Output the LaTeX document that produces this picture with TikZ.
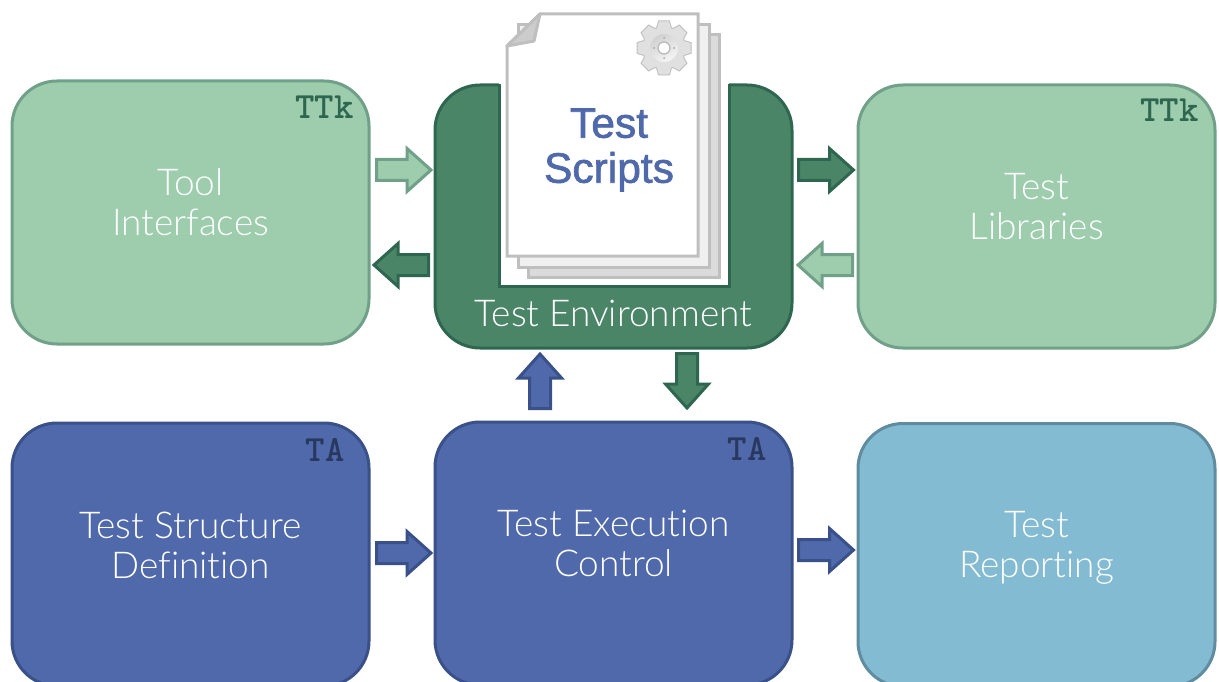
\documentclass[tikz,border=0pt]{standalone}
\usepackage{fontspec}
\setmainfont{Lato Light}[Ligatures=NoCommon]
\newfontfamily\scriptsfont[FakeBold=1.6]{Liberation Sans}
\usetikzlibrary{calc,positioning}
\definecolor{lightgreen}{HTML}{9DCDAD}
\definecolor{lightgreenline}{HTML}{70A088}
\definecolor{darkgreen}{HTML}{4B8568}
\definecolor{darkgreenline}{HTML}{2F6650}
\definecolor{tablue}{HTML}{4F69AB}
\definecolor{tablueline}{HTML}{3A5088}
\definecolor{reportblue}{HTML}{83BBD2}
\definecolor{reportline}{HTML}{5F8C9E}
\definecolor{pageline}{HTML}{BFBFBF}
\tikzset{
	basic/.style = {draw, rounded corners=45pt, line width=3pt, minimum width=357pt, inner sep=0pt},
	tool/.style = {basic, fill=lightgreen, draw=lightgreenline, minimum height=263pt},
	env/.style = {basic, fill=darkgreen, draw=darkgreenline, minimum height=263pt},
	ctrl/.style = {basic, fill=tablue, draw=tablueline, minimum height=263pt},
	report/.style = {basic, fill=reportblue, draw=reportline, minimum height=263pt},
	boxtext/.style = {text=white, align=center, font=\fontsize{37}{40}\selectfont},
	owner/.style = {font=\ttfamily\bfseries\fontsize{37}{37}\selectfont\addfontfeatures{FakeBold=2}, inner sep=0pt},
	page/.style = {draw=pageline, line width=3pt},
	blockarrow/.style = {line width=3pt, miter limit=10, to path={
		-- ($(\tikztostart)!10.5pt!90:(\tikztotarget)$)
		-- ($(\tikztotarget)!24pt!(\tikztostart)!10.5pt!90:(\tikztotarget)$)
		-- ($(\tikztotarget)!24pt!(\tikztostart)!21.5pt!90:(\tikztotarget)$)
		-- (\tikztotarget)
		-- ($(\tikztotarget)!24pt!(\tikztostart)!21.5pt!-90:(\tikztotarget)$)
		-- ($(\tikztotarget)!24pt!(\tikztostart)!10.5pt!-90:(\tikztotarget)$)
		-- ($(\tikztostart)!10.5pt!-90:(\tikztotarget)$)
		-- cycle}},
	greenarrow/.style = {blockarrow, fill=darkgreen, draw=darkgreenline},
	palearrow/.style = {blockarrow, fill=lightgreen, draw=lightgreenline},
	bluearrow/.style = {blockarrow, fill=tablue, draw=tablueline}
}
\begin{document}
\begin{tikzpicture}[x=1pt,y=-1pt]
	\useasboundingbox (0,0) rectangle (1219,682);
	\clip (0,0) rectangle (1219,682);
	% the six boxes
	\node[tool] (interfaces) at (190.5,212.5) {};
	\node[env, right = 63pt of interfaces, yshift=-4pt] (environment) {};
	\node[tool, right = 63pt of environment] (libraries) {};
	\node[ctrl] (structure) at (190.5,554.5) {};
	\node[ctrl, right = 63pt of structure, yshift=1pt] (execution) {};
	\node[report, right = 63pt of execution, yshift=-1.5pt] (reporting) {};
	% texts of the boxes
	\node[boxtext, yshift=10pt] (interfacestext) at (interfaces) {Tool\\Interfaces};
	\node[boxtext, yshift=10pt] (librariestext) at (libraries) {Test\\Libraries};
	\node[boxtext, yshift=9pt] (structuretext) at (structure) {Test Structure\\Definition};
	\node[boxtext, yshift=10pt] (executiontext) at (execution) {Test Execution\\Control};
	\node[boxtext, yshift=7pt] (reportingtext) at (reporting) {Test\\Reporting};
	\node[boxtext] (environmenttext) at (613.5,313) {Test Environment};
	\node[owner, text=darkgreenline, anchor=north east] (interfacesowner) at (354,96) {TTk};
	\node[owner, text=darkgreenline, anchor=north east] (librariesowner) at (1199,99) {TTk};
	\node[owner, text=tablueline!70!black, anchor=north east] (structureowner) at (345,438) {TA};
	\node[owner, text=tablueline!70!black, anchor=north east] (executionowner) at (767,437) {TA};
	% cut-out of the environment box
	\fill[white] (499,80) rectangle (729,286);
	\draw[darkgreenline, line width=3pt] (499,84) -- (499,286) -- (729,286) -- (729,84);
	% pages
	\draw[page, fill=black!14] (528,35) rectangle (719,277);
	\draw[page, fill=black!6] (518,25) rectangle (709,267);
	\draw[page, fill=white] (540,14) -- (698,14) -- (698,256) -- (507,256) -- (507,46) -- cycle;
	\draw[page, fill=black!20, line join=round] (540,14) -- (507,46) -- (534,41) -- cycle;
	\node[text=tablue, align=center, font=\scriptsfont\fontsize{42.5}{45}\selectfont] (scripts) at (609,150) {Test\\Scripts};
	% gear
	\begin{scope}[shift={(664,48)}]
		\foreach \angle in {0,45,...,315}
		\draw[black!25, line width=2pt, rotate=\angle] (-7.5,-18) -- (-5,-26.5) -- (5,-26.5) -- (7.5,-18) -- cycle;
		\filldraw[draw=black!25, line width=2pt] (0,0) circle (21);
		\foreach \angle in {0,45,...,315}
		\fill[black!12, rotate=\angle] (-7.5,-18) -- (-5,-26.5) -- (5,-26.5) -- (7.5,-18) -- cycle;
		\fill[black!12] (0,0) circle (21);
		\shade[top color=black!18, bottom color=black!4, shading angle=30] (0,0) circle (14);
		\draw[black!25, line width=1.5pt, fill=white] (0,0) circle (6);
		\foreach \angle in {0,90,180,270}
		\fill[black!35, rotate=\angle] (0,-10) circle (1);
	\end{scope}
	% arrows between the boxes
	\draw[palearrow] ([shift={(6pt,42.5pt)}]interfaces.east) to ([shift={(60.5pt,42.5pt)}]interfaces.east);
	\draw[greenarrow] ([shift={(-5pt,-48.5pt)}]environment.west) to ([shift={(-59.5pt,-48.5pt)}]environment.west);
	\draw[greenarrow] ([shift={(5pt,46.5pt)}]environment.east) to ([shift={(60pt,46.5pt)}]environment.east);
	\draw[palearrow] ([shift={(-4pt,-48.5pt)}]libraries.west) to ([shift={(-58.5pt,-48.5pt)}]libraries.west);
	\draw[bluearrow] ([shift={(-73.5pt,12pt)}]execution.north) to ([shift={(-73.5pt,-4.5pt)}]environment.south);
	\draw[greenarrow] ([shift={(73.5pt,-4pt)}]environment.south) to ([shift={(73.5pt,-58.5pt)}]environment.south);
	\draw[bluearrow] ([shift={(6pt,1.5pt)}]structure.east) to ([shift={(60.5pt,1.5pt)}]structure.east);
	\draw[bluearrow] ([shift={(5pt,3.5pt)}]execution.east) to ([shift={(60pt,3.5pt)}]execution.east);
\end{tikzpicture}
\end{document}
